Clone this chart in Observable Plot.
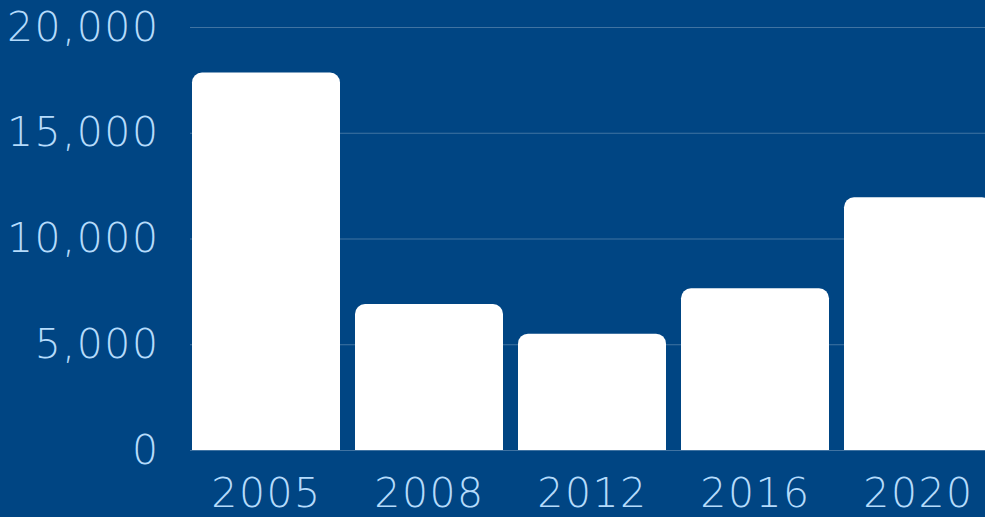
<!DOCTYPE html>
<html><head><meta charset="utf-8">
<script src="https://cdn.jsdelivr.net/npm/d3@7"></script>
<script src="https://cdn.jsdelivr.net/npm/@observablehq/plot@0.6"></script>
<style>
html,body{margin:0;padding:0;background:#004583;overflow:hidden;width:985px;height:517px;}
#chart svg{display:block;max-width:none !important;}
#chart svg text{letter-spacing:1.5px;}
</style></head><body><div id="chart"></div>
<script>
const years = ["2005","2008","2012","2016","2020"];
const values = [17850, 6900, 5500, 7650, 11950];
const yTicks = [0, 5000, 10000, 15000, 20000];
const data = years.map((y,i)=>({year:y, value:values[i]}));

const chart = Plot.plot({
  width: 993, height: 517,
  marginTop: 27, marginBottom: 67, marginLeft: 190, marginRight: 0,
  style: {background: "#004583", color: "#b5dbfb", fontFamily: "DejaVu Sans", fontSize: "41px", fontWeight: 200, maxWidth: "none"},
  x: {domain: years, paddingInner: 0.095, paddingOuter: 0, round: true, label: null, tickSize: 0, tickPadding: 27},
  y: {domain: [0, 20000], ticks: yTicks, label: null, tickSize: 0, tickPadding: 31, tickFormat: d3.format(",")},
  marks: [
    Plot.ruleY(yTicks, {stroke: "#ffffff", strokeOpacity: 0.25, strokeWidth: 1}),
    Plot.barY(data, {x: "year", y: "value", fill: "white", rx: 10}),
    Plot.barY(data, {x: "year", y1: 0, y2: d => d.value / 2, fill: "white"})
  ]
});
document.getElementById("chart").append(chart);
</script></body></html>
